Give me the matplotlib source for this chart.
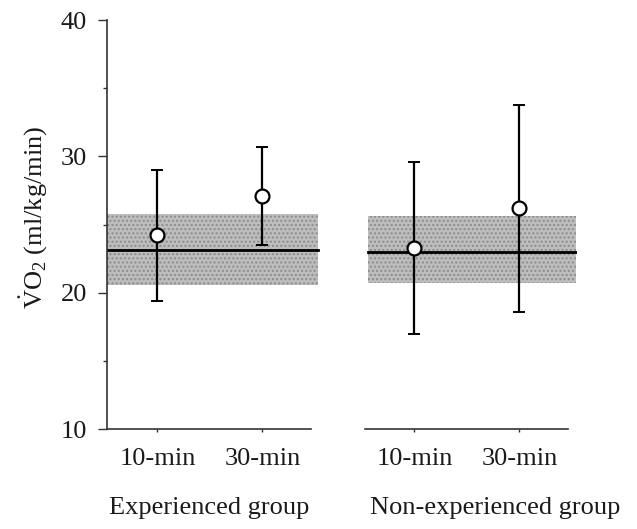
import numpy as np
import matplotlib.pyplot as plt
from matplotlib.ticker import MultipleLocator

plt.rcParams['font.family'] = ['Liberation Serif', 'DejaVu Serif']
plt.rcParams['mathtext.fontset'] = 'custom'
plt.rcParams['mathtext.rm'] = 'Liberation Serif'

# valori
groups = ['Experienced group', 'Non-experienced group']
times = ['10-min', '30-min', '10-min', '30-min']
means = [24.2, 27.1, 23.3, 26.2]
sds = [4.8, 3.6, 6.3, 7.6]
# fascia grigia (range di riferimento) e linea media per gruppo
band_low = [20.6, 20.7]
band_high = [25.8, 25.6]
band_mid = [23.1, 23.0]

# posizioni sull'asse x
pos = [1, 2, 3.45, 4.45]
band_x = [(0.52, 2.53), (3.01, 4.99)]
axis_x = [(0.52, 2.46), (2.98, 4.91)]
group_x = [1.49, 4.22]

fig = plt.figure(figsize=(6.37, 5.29), dpi=100)
ax = fig.add_axes([0.168, 0.189, 0.738, 0.773])

txt = '#1a1a1a'

for i in range(2):
    x0, x1 = band_x[i]
    ax.fill_between([x0, x1], band_low[i], band_high[i], color='#bdbdbd',
                    hatch='....', edgecolor='#8c8c8c', linewidth=0, zorder=1)
    ax.plot([x0, x1], [band_mid[i], band_mid[i]], color='black', lw=2, zorder=2)
    ax.plot(axis_x[i], [10, 10], color='#333333', lw=1.2, clip_on=False, zorder=3)

ax.errorbar(pos, means, yerr=sds, fmt='none', ecolor='black', elinewidth=1.6,
            capsize=4.5, capthick=1.4, zorder=3)
ax.plot(pos, means, 'o', ms=10, mfc='white', mec='black', mew=1.6, zorder=4,
        linestyle='none')

ax.set_xlim(0.52, 5.0)
ax.set_ylim(10, 40)
ax.set_xticks(pos)
ax.set_xticklabels(times)
ax.yaxis.set_major_locator(MultipleLocator(10))
ax.yaxis.set_minor_locator(MultipleLocator(5))

for s in ['top', 'right', 'bottom']:
    ax.spines[s].set_visible(False)
ax.spines['left'].set_color('#333333')
ax.spines['left'].set_linewidth(1.2)

ax.tick_params(axis='y', which='major', direction='out', length=6.5, width=1,
               pad=8, labelsize=19, colors='#333333', labelcolor=txt)
ax.tick_params(axis='y', which='minor', direction='out', length=3, width=1,
               colors='#333333')
ax.tick_params(axis='x', direction='out', length=2.5, width=1, pad=11,
               labelsize=19, colors='#333333', labelcolor=txt)

for i in range(2):
    ax.text(group_x[i], -0.193, groups[i], transform=ax.get_xaxis_transform(),
            ha='center', va='center', fontsize=19, color=txt)

fig.text(33 / 637, 1 - 217 / 529, r'$\dot{\mathrm{V}}\mathrm{O}_2$ (ml/kg/min)',
         rotation=90, ha='center', va='center', fontsize=19, color=txt)

fig.savefig('out.png', dpi=100)
